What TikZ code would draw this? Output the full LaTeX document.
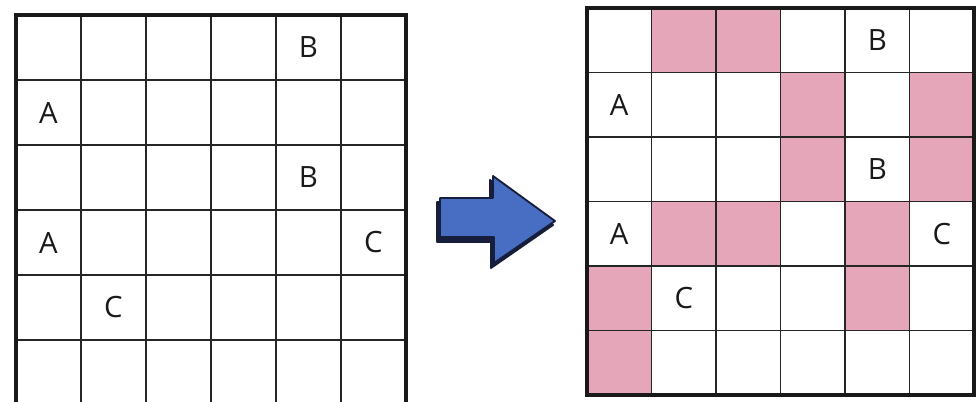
\documentclass[tikz,border=0pt]{standalone}
\usepackage{fontspec}
\setmainfont{Open Sans}
\begin{document}
\begin{tikzpicture}[x=0.75pt,y=-0.75pt,
  gridline/.style={line width=1.3pt,draw=black!85},
  frame/.style={line width=2.6pt,draw=black!90},
  shade/.style={fill=cellpink},
  letter/.style={font=\fontsize{22}{26}\selectfont,text=black!90,inner sep=0pt},
  arrowfill/.style={fill=arrowblue,draw=arrownavy,line width=1.4pt,line join=round},
  arrowshadow/.style={fill=arrownavy,draw=arrownavy,line width=1.4pt,line join=round}]
\definecolor{cellpink}{RGB}{228,166,184}
\definecolor{arrowblue}{RGB}{72,110,196}
\definecolor{arrownavy}{RGB}{22,30,60}
\useasboundingbox (0,0) rectangle (976,401);
% ---------- left grid ----------
\def\lx{16}\def\ly{15}\def\lc{65}
\foreach \i in {1,...,5}{
  \draw[gridline] (\lx+\i*\lc,\ly) -- (\lx+\i*\lc,\ly+6*\lc);
  \draw[gridline] (\lx,\ly+\i*\lc) -- (\lx+6*\lc,\ly+\i*\lc);
}
\draw[frame] (\lx,\ly) rectangle (\lx+6*\lc,\ly+6*\lc);
\node[letter] (lB1) at (\lx+4.5*\lc,\ly+0.5*\lc) {B};
\node[letter] (lA1) at (\lx+0.5*\lc,\ly+1.5*\lc) {A};
\node[letter] (lB2) at (\lx+4.5*\lc,\ly+2.5*\lc) {B};
\node[letter] (lA2) at (\lx+0.5*\lc,\ly+3.5*\lc) {A};
\node[letter] (lC1) at (\lx+5.5*\lc,\ly+3.5*\lc) {C};
\node[letter] (lC2) at (\lx+1.5*\lc,\ly+4.5*\lc) {C};
% ---------- right grid ----------
\def\rx{587}\def\ry{8}\def\rc{64.5}
\foreach \r/\c in {0/1,0/2,1/3,1/5,2/3,2/5,3/1,3/2,3/4,4/0,4/4,5/0}{
  \fill[shade] (\rx+\c*\rc,\ry+\r*\rc) rectangle (\rx+\c*\rc+\rc,\ry+\r*\rc+\rc);
}
\foreach \i in {1,...,5}{
  \draw[gridline] (\rx+\i*\rc,\ry) -- (\rx+\i*\rc,\ry+6*\rc);
  \draw[gridline] (\rx,\ry+\i*\rc) -- (\rx+6*\rc,\ry+\i*\rc);
}
\draw[frame] (\rx,\ry) rectangle (\rx+6*\rc,\ry+6*\rc);
\node[letter] (rB1) at (\rx+4.5*\rc,\ry+0.5*\rc) {B};
\node[letter] (rA1) at (\rx+0.5*\rc,\ry+1.5*\rc) {A};
\node[letter] (rB2) at (\rx+4.5*\rc,\ry+2.5*\rc) {B};
\node[letter] (rA2) at (\rx+0.5*\rc,\ry+3.5*\rc) {A};
\node[letter] (rC1) at (\rx+5.5*\rc,\ry+3.5*\rc) {C};
\node[letter] (rC2) at (\rx+1.5*\rc,\ry+4.5*\rc) {C};
% ---------- arrow ----------
\path[arrowshadow] (437,202) -- (490,202) -- (490,180) -- (553,225) -- (491,268)
  -- (491,242) -- (437,242) -- cycle;
\path[arrowfill] (440,198) -- (493,198) -- (493,176) -- (555,221) -- (494,263)
  -- (494,237) -- (440,237) -- cycle;
\end{tikzpicture}
\end{document}
